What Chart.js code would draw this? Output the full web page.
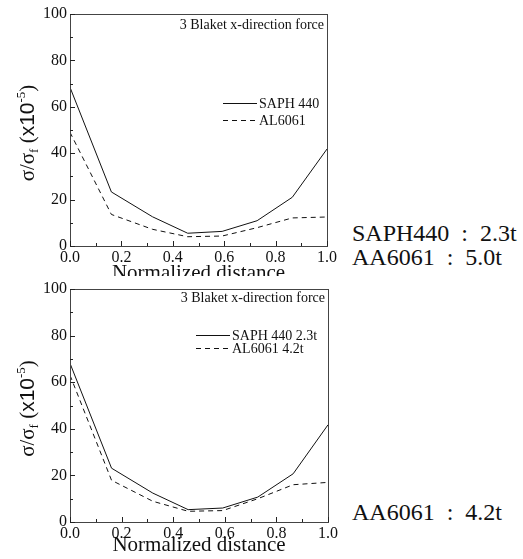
<!DOCTYPE html>
<html>
<head>
<meta charset="utf-8">
<script src="https://cdn.jsdelivr.net/npm/chart.js@4/dist/chart.umd.min.js"></script>
<style>
  html, body { margin: 0; padding: 0; background: #fff; }
  body { width: 523px; height: 559px; position: relative; overflow: hidden; }
  .wrap { position: absolute; left: 0; overflow: hidden; background: #fff; }
  #w1 { top: 0; width: 340px; height: 276px; }
  #w2 { top: 276px; width: 340px; height: 283px; }
  .note { position: absolute; left: 352px; font-size: 24px; line-height: 25px; white-space: pre; color: #111; }
</style>
</head>
<body>
<div class="wrap" id="w1"><canvas id="c1" width="340" height="300" style="width:340px;height:300px"></canvas></div>
<div class="wrap" id="w2"><canvas id="c2" width="340" height="283" style="width:340px;height:283px"></canvas></div>
<div class="note" style="top:221px;font-family:'Liberation Serif'">SAPH440  :  2.3t</div>
<div class="note" style="top:245px;font-family:'Liberation Serif'">AA6061  :  5.0t</div>
<div class="note" style="top:500px;font-family:'Liberation Serif'">AA6061  :  4.2t</div>
<script>
// ---- data ----
const X_POS = [0, 0.161, 0.321, 0.458, 0.592, 0.728, 0.865, 1.0];
const TOP_SAPH = [68.4, 23.3, 12.6, 5.5, 6.3, 10.9, 21.0, 41.8];
const TOP_AL = [49.0, 13.6, 7.2, 4.0, 4.3, 7.9, 12.1, 12.5];
const BOT_SAPH = [68.1, 23.1, 12.4, 5.3, 6.0, 10.7, 20.7, 41.7];
const BOT_AL = [63.0, 17.9, 8.9, 4.6, 4.9, 10.0, 16.0, 17.0];
const TOP_LEGEND = ['SAPH 440', 'AL6061'];
const BOT_LEGEND = ['SAPH 440 2.3t', 'AL6061 4.2t'];
const PANEL_TITLE = '3 Blaket x-direction force';
const X_TITLE = 'Normalized distance';
const X_MIN = 0, X_MAX = 1, X_STEP = 0.2, X_MINOR = 0.1;
const Y_MIN = 0, Y_MAX = 100, Y_STEP = 20, Y_MINOR = 10;

const SERIF = "'Liberation Serif'";
const SANS = "'Liberation Sans'";

function pts(xs, ys) { return xs.map((x, i) => ({ x: x, y: ys[i] })); }

const framePlugin = {
  id: 'frame',
  afterDatasetsDraw(chart, args, opts) {
    const { ctx, chartArea: a } = chart;
    const xs = chart.scales.x, ys = chart.scales.y;
    ctx.save();
    ctx.strokeStyle = '#444';
    ctx.lineWidth = 1;
    ctx.strokeRect(Math.round(a.left) + 0.5, Math.round(a.top) + 0.5, Math.round(a.right - a.left), Math.round(a.bottom - a.top));
    ctx.strokeStyle = '#222';
    const nx = Math.round((X_MAX - X_MIN) / X_MINOR);
    for (let i = 0; i <= nx; i++) {
      const v = X_MIN + i * X_MINOR;
      const px = Math.round(xs.getPixelForValue(v)) + 0.5;
      const len = (i % 2 === 0) ? 5 : 3;
      ctx.beginPath(); ctx.moveTo(px, a.bottom); ctx.lineTo(px, a.bottom - len); ctx.stroke();
    }
    const ny = Math.round((Y_MAX - Y_MIN) / Y_MINOR);
    for (let i = 0; i <= ny; i++) {
      const v = Y_MIN + i * Y_MINOR;
      const py = Math.round(ys.getPixelForValue(v)) + 0.5;
      const len = (i % 2 === 0) ? 5 : 3;
      ctx.beginPath(); ctx.moveTo(a.left, py); ctx.lineTo(a.left + len, py); ctx.stroke();
    }
    ctx.fillStyle = '#111';
    ctx.font = '14px ' + SERIF;
    ctx.textAlign = 'right';
    ctx.textBaseline = 'middle';
    ctx.fillText(PANEL_TITLE, a.right - 3, a.top + opts.titleDy);
    const lx1 = a.right - opts.legLine, lx2 = lx1 + 34;
    chart.data.datasets.forEach((ds, i) => {
      const yy = Math.round(a.top + opts.legDy + i * opts.legGap) + 0.5;
      ctx.strokeStyle = '#111';
      ctx.setLineDash(ds.borderDash || []);
      ctx.beginPath(); ctx.moveTo(lx1, yy); ctx.lineTo(lx2, yy); ctx.stroke();
      ctx.setLineDash([]);
      ctx.textAlign = 'left';
      ctx.fillText(ds.label, lx2 + 2, yy + 1);
    });
    const cx = opts.yTitleX, cy = (a.top + a.bottom) / 2 + 3;
    const parts = [
      { t: 'σ/σ', f: '21px ' + SERIF, dy: 0 },
      { t: 'f', f: '13px ' + SERIF, dy: 4 },
      { t: ' (', f: '21px ' + SERIF, dy: 0 },
      { t: 'x10', f: '21px ' + SANS, dy: 0 },
      { t: '-5', f: '13px ' + SERIF, dy: -9 },
      { t: ')', f: '21px ' + SERIF, dy: 0 }
    ];
    let total = 0;
    parts.forEach(p => { ctx.font = p.f; p.w = ctx.measureText(p.t).width; total += p.w; });
    ctx.translate(cx, cy);
    ctx.rotate(-Math.PI / 2);
    ctx.textAlign = 'left';
    ctx.textBaseline = 'alphabetic';
    let xx = -total / 2;
    parts.forEach(p => { ctx.font = p.f; ctx.fillText(p.t, xx, 7 + p.dy); xx += p.w; });
    ctx.restore();
  }
};

function makeChart(id, saph, al, legend, cfg) {
  return new Chart(document.getElementById(id), {
    type: 'line',
    data: {
      datasets: [
        { label: legend[0], data: pts(X_POS, saph), borderColor: '#111', borderWidth: 1, pointRadius: 0, tension: 0, fill: false },
        { label: legend[1], data: pts(X_POS, al), borderColor: '#111', borderWidth: 1, borderDash: [5, 4], pointRadius: 0, tension: 0, fill: false }
      ]
    },
    options: {
      responsive: false,
      animation: false,
      devicePixelRatio: 1,
      layout: { padding: { left: 0, top: cfg.padTop, right: cfg.padRight, bottom: 0 } },
      plugins: {
        legend: { display: false },
        tooltip: { enabled: false },
        frame: cfg.frame
      },
      scales: {
        x: {
          type: 'linear', min: X_MIN, max: X_MAX,
          grid: { display: false, drawTicks: false },
          border: { display: false },
          ticks: { stepSize: X_STEP, padding: 2, color: '#111', font: { family: SERIF, size: 16 }, maxRotation: 0,
                   callback: v => Number(v).toFixed(1) },
          title: { display: true, text: X_TITLE, color: '#111', font: { family: SERIF, size: 21 }, padding: { top: 0, bottom: cfg.titlePad } },
          afterFit: s => { s.height = cfg.xHeight; }
        },
        y: {
          type: 'linear', min: Y_MIN, max: Y_MAX,
          grid: { display: false, drawTicks: false },
          border: { display: false },
          ticks: { stepSize: Y_STEP, padding: 3, color: '#111', font: { family: SERIF, size: 16 } },
          afterFit: s => { s.width = 70; }
        }
      }
    },
    plugins: [framePlugin]
  });
}

makeChart('c1', TOP_SAPH, TOP_AL, TOP_LEGEND,
  { padTop: 14, padRight: 13, xHeight: 54, titlePad: 14,
    frame: { titleDy: 11, legLine: 104, legDy: 89, legGap: 17, yTitleX: 27 } });
makeChart('c2', BOT_SAPH, BOT_AL, BOT_LEGEND,
  { padTop: 13, padRight: 12, xHeight: 37, titlePad: 1,
    frame: { titleDy: 9, legLine: 132, legDy: 46, legGap: 13, yTitleX: 27 } });
</script>
</body>
</html>
